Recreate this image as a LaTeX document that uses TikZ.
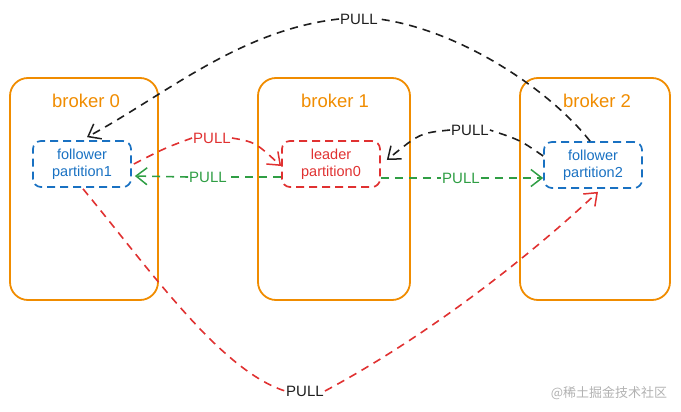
\documentclass[tikz,border=0pt]{standalone}
\usepackage{fontspec}
\setmainfont{Liberation Sans}
\newfontfamily\cjk{Noto Sans CJK SC}
\usetikzlibrary{arrows.meta}
\definecolor{exorange}{HTML}{F08C00}
\definecolor{exblue}{HTML}{1971C2}
\definecolor{exred}{HTML}{E03131}
\definecolor{exgreen}{HTML}{2F9E44}
\definecolor{exblack}{HTML}{1E1E1E}
\tikzset{
  broker/.style={draw=exorange, line width=1.8pt, rounded corners=18pt},
  brokertitle/.style={text=exorange, font=\fontsize{18.5}{21}\selectfont},
  part/.style={draw=#1, text=#1, dash pattern=on 8pt off 5pt, line width=1.7pt, rounded corners=8pt,
     minimum width=98pt, minimum height=46pt, align=center, font=\fontsize{14.5}{17}\selectfont, inner sep=1pt},
  conn/.style={draw=#1, dash pattern=on 8pt off 6pt, line width=1.6pt},
  tip/.style={-{Straight Barb[length=11pt,width=17pt,line width=1.5pt]}},
  lbl/.style={font=\fontsize{15}{17}\selectfont, inner sep=1pt, text=#1},
}
\begin{document}
\begin{tikzpicture}[x=1pt,y=-1pt]
\useasboundingbox (0,0) rectangle (681,412);
% brokers
\draw[broker] (10,78) rectangle (158,300);
\draw[broker] (258,78) rectangle (410,300);
\draw[broker] (520,78) rectangle (670,300);
\node[brokertitle] (b0) at (86,101) {broker 0};
\node[brokertitle] (b1) at (335,101) {broker 1};
\node[brokertitle] (b2) at (597,101) {broker 2};
% partitions
\node[part=exblue] (f1) at (82,164) {follower\\partition1};
\node[part=exred] (ld) at (331,164) {leader\\partition0};
\node[part=exblue] (f2) at (593,165) {follower\\partition2};
% labels
\node[lbl=exblack] (l1) at (359,19) {PULL};
\node[lbl=exblack] (l2) at (470,130) {PULL};
\node[lbl=exred] (l3) at (212,138) {PULL};
\node[lbl=exgreen] (l4) at (208,177) {PULL};
\node[lbl=exgreen] (l5) at (461,178) {PULL};
\node[lbl=exblack] (l6) at (305,391) {PULL};
\node[text=black!30, font=\cjk\fontsize{13}{15}\selectfont] (wm) at (609,393) {@稀土掘金技术社区};
% black top
\draw[conn=exblack] ([xshift=-3pt]f2.north) .. controls (550,90) and (460,30) .. (l1.east);
\draw[conn=exblack, tip] (l1.west) .. controls (240,30) and (165,95) .. ([xshift=5pt,yshift=3pt]f1.north);
% black middle
\draw[conn=exblack] ([yshift=9pt]f2.west) .. controls (520,140) .. (l2.east);
\draw[conn=exblack, tip] (l2.west) .. controls (420,133) .. ([xshift=6pt,yshift=4pt]ld.east);
% red top
\draw[conn=exred] ([xshift=2pt]f1.east) .. controls (165,148) .. (l3.west);
\draw[conn=exred, tip] (l3.east) .. controls (255,142) .. ([yshift=-2pt]ld.west);
% green
\draw[conn=exgreen] ([yshift=-13pt]ld.west) -- (l4.east);
\draw[conn=exgreen, tip] (l4.west) -- ([xshift=3pt,yshift=-12pt]f1.east);
\draw[conn=exgreen] ([yshift=-14pt]ld.east) -- (l5.west);
\draw[conn=exgreen, tip] (l5.east) -- ([yshift=-13pt]f2.west);
% red bottom
\draw[conn=exred] ([xshift=1pt,yshift=-1pt]f1.south) .. controls (150,270) and (220,370) .. (l6.west);
\draw[conn=exred, tip] (l6.east) .. controls (420,340) and (520,265) .. ([xshift=5pt,yshift=-3pt]f2.south);
\end{tikzpicture}
\end{document}
